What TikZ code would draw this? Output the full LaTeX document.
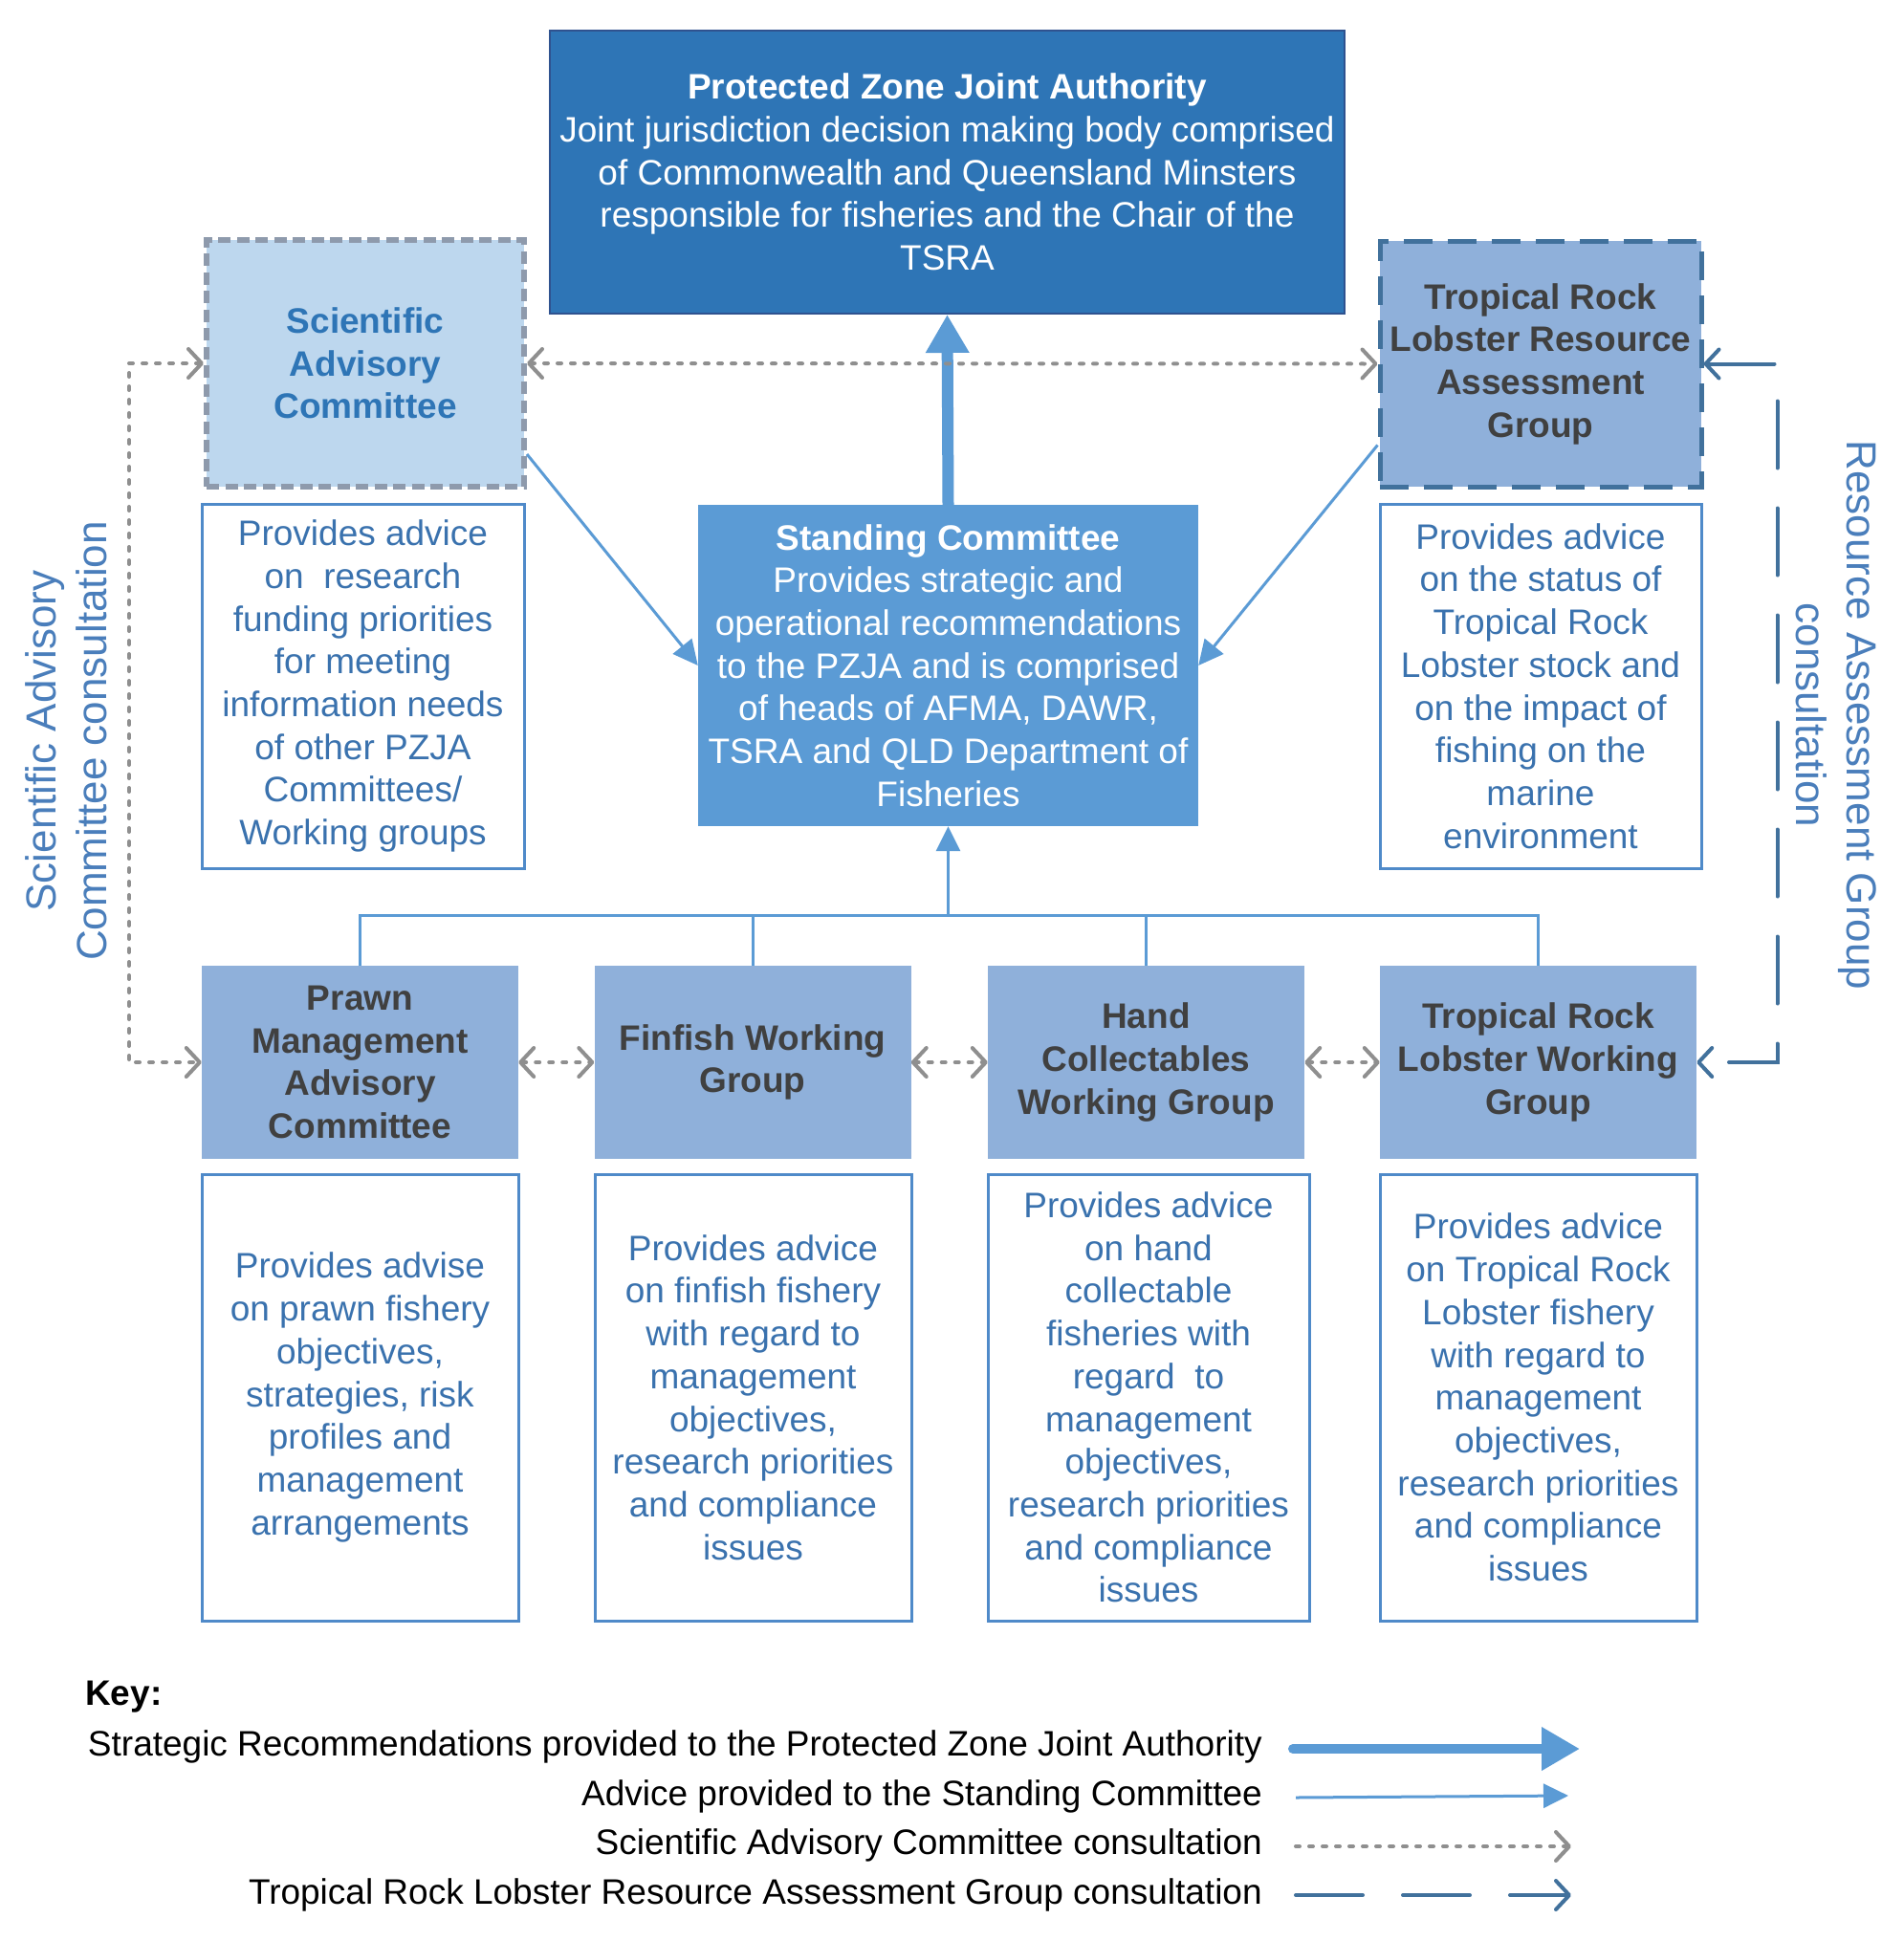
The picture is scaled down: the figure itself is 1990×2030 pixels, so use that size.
\documentclass[tikz,border=0pt]{standalone}
\usepackage{fontspec}
\setmainfont{Liberation Sans}
\usetikzlibrary{positioning, calc, arrows.meta}

\definecolor{pzjablue}{HTML}{2E75B6}
\definecolor{pzjaedge}{HTML}{2F528F}
\definecolor{scblue}{HTML}{5B9BD5}
\definecolor{sacfill}{HTML}{BDD7EE}
\definecolor{grpfill}{HTML}{8FB0DA}
\definecolor{ragedge}{HTML}{41719C}
\definecolor{sacedge}{HTML}{8E9AAC}
\definecolor{desctext}{HTML}{3A72AE}
\definecolor{descedge}{HTML}{4F8AC9}
\definecolor{consgray}{HTML}{8F8F8F}
\definecolor{hdrtext}{HTML}{404040}
\definecolor{sidetext}{HTML}{4A7EBB}

\newcommand{\boxfont}{\fontsize{37}{44.7}\selectfont}
\newcommand{\sidefont}{\fontsize{44}{53}\selectfont}

\tikzset{
  chev/.tip={Straight Barb[length=14pt,width=30pt,round]},
  bigtri/.tip={Triangle[length=40pt,width=43pt]},
  smalltri/.tip={Triangle[length=26pt,width=25pt]},
  panel/.style={rectangle, align=center, inner sep=0pt, font=\boxfont},
  authority/.style={panel, fill=pzjablue, draw=pzjaedge, line width=2pt, text=white, minimum width=831pt, minimum height=296pt},
  standing/.style={panel, fill=scblue, text=white, minimum width=523pt, minimum height=336pt},
  science/.style={panel, fill=sacfill, draw=sacedge, line width=6pt, dash pattern=on 13pt off 6.5pt, text=pzjablue, font=\boxfont\bfseries, minimum width=332pt, minimum height=258pt},
  assess/.style={panel, fill=grpfill, draw=ragedge, line width=5pt, dash pattern=on 30pt off 16pt, text=hdrtext, font=\boxfont\bfseries, minimum width=336pt, minimum height=257pt},
  group/.style={panel, fill=grpfill, text=hdrtext, font=\boxfont\bfseries, minimum width=331pt, minimum height=202pt},
  remit/.style={panel, draw=descedge, line width=3pt, fill=white, text=desctext, minimum width=331pt},
  strategic/.style={draw=scblue, line width=12pt, -bigtri},
  advice/.style={draw=scblue, line width=3pt},
  sacline/.style={draw=consgray, line width=4pt, line cap=round, dash pattern=on 4pt off 10pt},
  ragline/.style={draw=ragedge, line width=4pt, line cap=round, dash pattern=on 70pt off 42pt},
  keytext/.style={font=\boxfont, anchor=east, inner sep=0pt},
  sidenote/.style={font=\sidefont, text=sidetext, align=center, inner sep=0pt}
}

\begin{document}
\begin{tikzpicture}[x=1pt,y=-1pt]
  \useasboundingbox[fill=white] (0,0) rectangle (1990,2030);

  \node[authority] (pzja) at (990.5,180) {\textbf{Protected Zone Joint Authority}\\Joint jurisdiction decision making body comprised\\of Commonwealth and Queensland Minsters\\responsible for fisheries and the Chair of the\\TSRA};
  \node[science] (sac) at (382,380) {Scientific\\Advisory\\Committee};
  \node[assess] (rag) at (1611,380.5) {Tropical Rock\\Lobster Resource\\Assessment\\Group};
  \node[standing] (sc) at (991.5,696) {\textbf{Standing Committee}\\Provides strategic and\\operational recommendations\\to the PZJA and is comprised\\of heads of AFMA, DAWR,\\TSRA and QLD Department of\\Fisheries};
  \node[remit, minimum width=337pt, minimum height=381pt] (sacd) at (379.5,717.5) {Provides advice\\on\ \ research\\funding priorities\\for meeting\\information needs\\of other PZJA\\Committees/\\Working groups};
  \node[remit, minimum width=336pt, minimum height=381pt] (ragd) at (1611,717.5) {Provides advice\\on the status of\\Tropical Rock\\Lobster stock and\\on the impact of\\fishing on the\\marine\\environment};

  \node[group] (pmac) at (376.5,1111) {Prawn\\Management\\Advisory\\Committee};
  \node[group] (fin) at (787,1111) {Finfish Working\\Group};
  \node[group] (hand) at (1198.5,1111) {Hand\\Collectables\\Working Group};
  \node[group] (wg) at (1608.5,1111) {Tropical Rock\\Lobster Working\\Group};

  \node[remit, minimum height=467pt] (pmacd) at (376.5,1461.5) {Provides advise\\on prawn fishery\\objectives,\\strategies, risk\\profiles and\\management\\arrangements};
  \node[remit, minimum height=467pt] (find) at (787.5,1461.5) {Provides advice\\on finfish fishery\\with regard to\\management\\objectives,\\research priorities\\and compliance\\issues};
  \node[remit, minimum width=336pt, minimum height=467pt] (handd) at (1201,1461.5) {Provides advice\\on hand\\collectable\\fisheries with\\regard\ \ to\\management\\objectives,\\research priorities\\and compliance\\issues};
  \node[remit, minimum height=467pt] (wgd) at (1608.5,1461.5) {Provides advice\\on Tropical Rock\\Lobster fishery\\with regard to\\management\\objectives,\\research priorities\\and compliance\\issues};

  \node[sidenote, rotate=90] (saclabel) at (69,775) {Scientific Advisory\\Committee consultation};
  \node[sidenote, rotate=-90] (raglabel) at (1920,748) {Resource Assessment Group\\consultation};

  \draw[strategic] (sc.north) -- (pzja.south);
  \draw[advice, -smalltri] ([yshift=-95pt]sac.east) -- (sc.west);
  \draw[advice, -smalltri] ([yshift=-85pt]rag.west) -- (sc.east);

  \coordinate (hub) at (991.5,957);
  \draw[advice] (pmac.north) |- (hub) -| (wg.north);
  \draw[advice] (fin.north) -- (fin.north |- hub);
  \draw[advice] (hand.north) -- (hand.north |- hub);
  \draw[advice, -smalltri] (hub) -- (sc.south);

  \draw[sacline, chev-chev] (sac.east) -- (rag.west);
  \draw[sacline, chev-chev] (sac.west) -- ++(-78,0) |- (pmac.west);
  \draw[sacline, chev-chev] (pmac.east) -- (fin.west);
  \draw[sacline, chev-chev] (fin.east) -- (hand.west);
  \draw[sacline, chev-chev] (hand.east) -- (wg.west);
  \draw[ragline, chev-chev] (rag.east) -- ++(77,0) |- (wg.east);

  \node[font=\boxfont\bfseries, anchor=west, inner sep=0pt] (keyhead) at (89,1775) {Key:};
  \node[keytext] (keystrat) at (1320,1827) {Strategic Recommendations provided to the Protected Zone Joint Authority};
  \node[keytext] (keyadv) at (1320,1879) {Advice provided to the Standing Committee};
  \node[keytext] (keysac) at (1320,1930) {Scientific Advisory Committee consultation};
  \node[keytext] (keyrag) at (1320,1982) {Tropical Rock Lobster Resource Assessment Group consultation};

  \coordinate (stratA) at (1352,1829);
  \coordinate (stratB) at (1652,1829);
  \coordinate (advA) at (1355,1880);
  \coordinate (advB) at (1640,1878);
  \coordinate (sacA) at (1355,1931);
  \coordinate (sacB) at (1643,1931);
  \coordinate (ragA) at (1355,1982);
  \coordinate (ragB) at (1643,1982);
  \draw[strategic, line width=10pt, line cap=round] (stratA) -- (stratB);
  \draw[advice, -smalltri] (advA) -- (advB);
  \draw[sacline, -chev] (sacA) -- (sacB);
  \draw[ragline, -chev] (ragA) -- (ragB);
\end{tikzpicture}
\end{document}
